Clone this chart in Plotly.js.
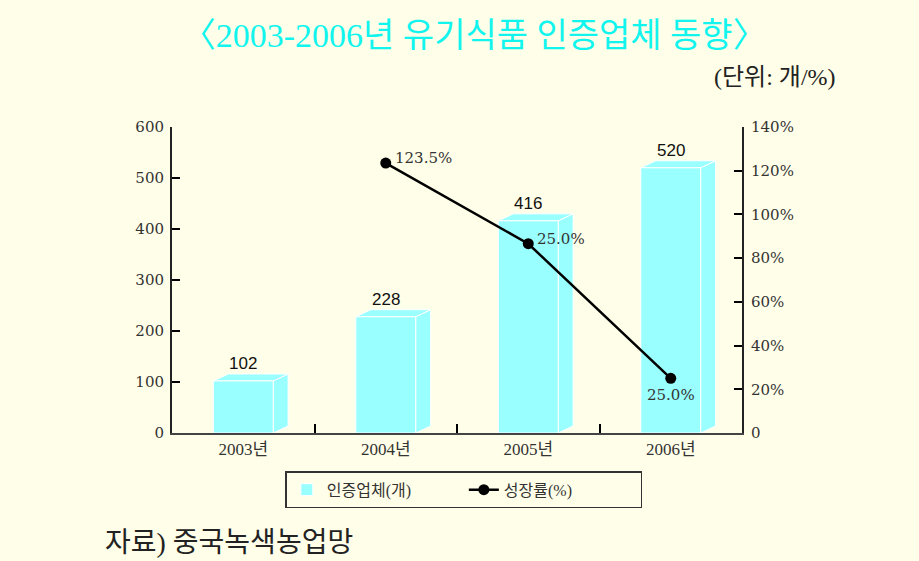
<!DOCTYPE html>
<html><head><meta charset="utf-8">
<script src="https://cdn.plot.ly/plotly-3.0.1.min.js"></script>
<style>html,body{margin:0;padding:0;background:#fffee8;}</style>
</head><body>
<div id="chart" style="width:919px;height:561px;"></div>
<script>
// ---- data ----
const categories = ['2003년', '2004년', '2005년', '2006년'];
const companies = [102, 228, 416, 520];
const growthX = [1, 2, 3];
const growth = [123.5, 86.6, 25.0];
const growthLabels = ['123.5%', '25.0%', '25.0%'];
const rightTickVals = [0, 20, 40, 60, 80, 100, 120, 140];
const rightTickText = ['0', '20%', '40%', '60%', '80%', '100%', '120%', '140%'];

const serif = 'DejaVu Serif, Noto Sans CJK KR, serif';
const kr = 'Liberation Serif, Noto Sans CJK KR, serif';
const cyan = '#99ffff';
const idx = categories.map((c, i) => i);
const barW = 0.42, dx = 0.105, dy = 13.7;

const shapes = [];
companies.forEach((v, i) => {
  const L = i - barW / 2, R = i + barW / 2;
  shapes.push({type: 'path', xref: 'x', yref: 'y', layer: 'below',
    path: `M${R},0 L${R + dx},${dy} L${R + dx},${v + dy} L${R},${v} Z`,
    fillcolor: cyan, line: {color: '#ffffff', width: 1}});
  shapes.push({type: 'path', xref: 'x', yref: 'y', layer: 'below',
    path: `M${L},${v} L${L + dx},${v + dy} L${R + dx},${v + dy} L${R},${v} Z`,
    fillcolor: cyan, line: {color: '#ffffff', width: 1}});
});

const annotations = [];
companies.forEach((v, i) => annotations.push({
  x: i, y: v, xref: 'x', yref: 'y', text: String(v), showarrow: false,
  yanchor: 'bottom', yshift: 6, font: {family: 'Liberation Sans, Arial, sans-serif', size: 17, color: '#111'}
}));
growth.forEach((v, i) => {
  const last = i === growth.length - 1;
  annotations.push({
    x: growthX[i], y: v, xref: 'x', yref: 'y2', text: growthLabels[i], showarrow: false,
    xanchor: last ? 'center' : 'left', yanchor: 'middle',
    xshift: last ? 0 : 7, yshift: last ? -17 : 5,
    font: {family: serif, size: 15, color: '#333'}
  });
});
annotations.push({xref: 'paper', yref: 'paper', x: 1.168, y: 1.163, xanchor: 'right', yanchor: 'middle',
  text: '(단위: 개/%)', showarrow: false, font: {family: kr, size: 24, color: '#222'}});
annotations.push({xref: 'paper', yref: 'paper', x: -0.121, y: -0.359, xanchor: 'left', yanchor: 'middle',
  text: '자료) 중국녹색농업망', showarrow: false, font: {family: kr, size: 28, color: '#222'}});

const traces = [
  {type: 'bar', x: idx, y: companies, name: '인증업체(개)', width: barW,
   marker: {color: cyan, line: {color: '#ffffff', width: 1}}, hoverinfo: 'skip'},
  {type: 'scatter', mode: 'lines+markers', x: growthX, y: growth, yaxis: 'y2', name: '성장률(%)',
   line: {color: '#000', width: 2.5}, marker: {color: '#000', size: 11}}
];

const layout = {
  width: 919, height: 561,
  paper_bgcolor: '#fffee8', plot_bgcolor: '#fffee8',
  margin: {l: 172, r: 177, t: 127, b: 128},
  title: {text: '〈2003-2006년 유기식품 인증업체 동향〉', xref: 'container', yref: 'container',
    x: 0.516, y: 0.938, xanchor: 'center', yanchor: 'middle',
    font: {family: kr, size: 34, color: '#12f5ee'}},
  showlegend: true,
  legend: {orientation: 'h', x: 0.512, y: -0.125, xanchor: 'center', yanchor: 'top',
    bgcolor: 'rgba(0,0,0,0)', bordercolor: '#333', borderwidth: 1.5,
    entrywidth: 132, entrywidthmode: 'pixels',
    font: {family: kr, size: 16, color: '#333'}},
  xaxis: {type: 'linear', range: [-0.5, 3.5], tickvals: idx, ticktext: categories,
    ticks: '', showgrid: false, zeroline: false, showline: true, linecolor: '#444', linewidth: 2,
    tickfont: {family: kr, size: 17, color: '#333'},
    minor: {tickvals: [0.5, 1.5, 2.5], ticks: 'inside', ticklen: 9, tickwidth: 2, tickcolor: '#000', showgrid: false}},
  yaxis: {range: [0, 600], dtick: 100, showgrid: false, zeroline: false, showline: true,
    linecolor: '#222', linewidth: 2, ticks: 'inside', ticklen: 8, tickwidth: 2, tickcolor: '#000',
    ticklabelstandoff: 3, tickfont: {family: serif, size: 15, color: '#333'}},
  yaxis2: {overlaying: 'y', side: 'right', range: [0, 140], tickvals: rightTickVals, ticktext: rightTickText,
    showgrid: false, zeroline: false, showline: true, linecolor: '#222', linewidth: 2,
    ticks: 'inside', ticklen: 8, tickwidth: 2, tickcolor: '#000',
    ticklabelstandoff: 4, tickfont: {family: serif, size: 15, color: '#333'}},
  shapes: shapes, annotations: annotations
};
Plotly.newPlot('chart', traces, layout, {displayModeBar: false, staticPlot: true});
</script>
</body></html>
